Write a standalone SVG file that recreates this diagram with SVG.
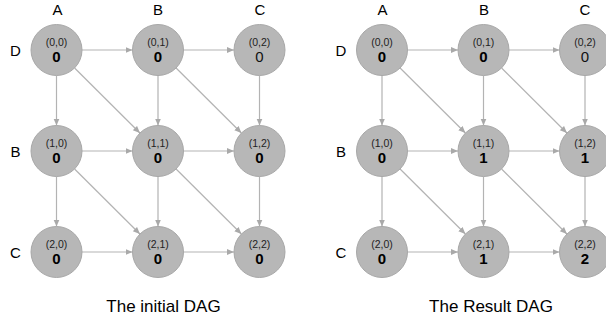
<svg xmlns="http://www.w3.org/2000/svg" width="606" height="325" viewBox="0 0 606 325">
<style>
.n circle{fill:#b7b7b7;stroke:#a8a8a8;stroke-width:1}
.c{font-family:"Liberation Sans",Arial,sans-serif;font-size:10.5px;fill:#222;text-anchor:middle}
.v{font-family:"Liberation Sans",Arial,sans-serif;font-size:15px;font-weight:bold;fill:#000;text-anchor:middle}
.vn{font-family:"Liberation Sans",Arial,sans-serif;font-size:15px;fill:#111;text-anchor:middle}
.lab{font-family:"Liberation Sans",Arial,sans-serif;font-size:15px;fill:#000;text-anchor:middle}
.t{font-family:"Liberation Sans",Arial,sans-serif;font-size:17px;fill:#000;text-anchor:middle}
.e line{stroke:#b3b3b3;stroke-width:1.2;marker-end:url(#ah)}
</style>
<defs>
<marker id="ah" markerUnits="userSpaceOnUse" markerWidth="8" markerHeight="7" refX="7" refY="3" orient="auto">
<path d="M0,0 L7,3 L0,6 z" fill="#a9a9a9"/>
</marker>
</defs>
<rect width="606" height="325" fill="#fff"/>
<g id="labels">
<text class="lab" x="57.5" y="15">A</text>
<text class="lab" x="158" y="15">B</text>
<text class="lab" x="260" y="15">C</text>
<text class="lab" x="15.5" y="56">D</text>
<text class="lab" x="15.5" y="157">B</text>
<text class="lab" x="15.5" y="258">C</text>
<text class="lab" x="382.5" y="15">A</text>
<text class="lab" x="484" y="15">B</text>
<text class="lab" x="585" y="15">C</text>
<text class="lab" x="341" y="56">D</text>
<text class="lab" x="341" y="157">B</text>
<text class="lab" x="341" y="258">C</text>
<text class="t" x="163.5" y="312">The initial DAG</text>
<text class="t" x="491" y="312">The Result DAG</text>
</g>
<g id="edges" class="e">
<line x1="82" y1="50" x2="132.5" y2="50"/>
<line x1="183.5" y1="50" x2="234" y2="50"/>
<line x1="82" y1="151" x2="132.5" y2="151"/>
<line x1="183.5" y1="151" x2="234" y2="151"/>
<line x1="82" y1="252" x2="132.5" y2="252"/>
<line x1="183.5" y1="252" x2="234" y2="252"/>
<line x1="56.5" y1="75.5" x2="56.5" y2="125.5"/>
<line x1="56.5" y1="176.5" x2="56.5" y2="226.5"/>
<line x1="158" y1="75.5" x2="158" y2="125.5"/>
<line x1="158" y1="176.5" x2="158" y2="226.5"/>
<line x1="259.5" y1="75.5" x2="259.5" y2="125.5"/>
<line x1="259.5" y1="176.5" x2="259.5" y2="226.5"/>
<line x1="74.6" y1="68" x2="139.9" y2="133"/>
<line x1="176.1" y1="68" x2="241.4" y2="133"/>
<line x1="74.6" y1="169" x2="139.9" y2="234"/>
<line x1="176.1" y1="169" x2="241.4" y2="234"/>
<line x1="407.5" y1="50" x2="458" y2="50"/>
<line x1="509" y1="50" x2="559.5" y2="50"/>
<line x1="407.5" y1="151" x2="458" y2="151"/>
<line x1="509" y1="151" x2="559.5" y2="151"/>
<line x1="407.5" y1="252" x2="458" y2="252"/>
<line x1="509" y1="252" x2="559.5" y2="252"/>
<line x1="382" y1="75.5" x2="382" y2="125.5"/>
<line x1="382" y1="176.5" x2="382" y2="226.5"/>
<line x1="483.5" y1="75.5" x2="483.5" y2="125.5"/>
<line x1="483.5" y1="176.5" x2="483.5" y2="226.5"/>
<line x1="585" y1="75.5" x2="585" y2="125.5"/>
<line x1="585" y1="176.5" x2="585" y2="226.5"/>
<line x1="400.1" y1="68" x2="465.4" y2="133"/>
<line x1="501.6" y1="68" x2="566.9" y2="133"/>
<line x1="400.1" y1="169" x2="465.4" y2="234"/>
<line x1="501.6" y1="169" x2="566.9" y2="234"/>
</g>
<g id="L00" class="n"><circle cx="56.5" cy="50" r="25.5"/><text class="c" x="56.5" y="46">(0,0)</text><text class="v" x="56.5" y="62">0</text></g>
<g id="L01" class="n"><circle cx="158" cy="50" r="25.5"/><text class="c" x="158" y="46">(0,1)</text><text class="v" x="158" y="62">0</text></g>
<g id="L02" class="n"><circle cx="259.5" cy="50" r="25.5"/><text class="c" x="259.5" y="46">(0,2)</text><text class="vn" x="259.5" y="62">0</text></g>
<g id="L10" class="n"><circle cx="56.5" cy="151" r="25.5"/><text class="c" x="56.5" y="147">(1,0)</text><text class="v" x="56.5" y="163">0</text></g>
<g id="L11" class="n"><circle cx="158" cy="151" r="25.5"/><text class="c" x="158" y="147">(1,1)</text><text class="v" x="158" y="163">0</text></g>
<g id="L12" class="n"><circle cx="259.5" cy="151" r="25.5"/><text class="c" x="259.5" y="147">(1,2)</text><text class="v" x="259.5" y="163">0</text></g>
<g id="L20" class="n"><circle cx="56.5" cy="252" r="25.5"/><text class="c" x="56.5" y="248">(2,0)</text><text class="v" x="56.5" y="264">0</text></g>
<g id="L21" class="n"><circle cx="158" cy="252" r="25.5"/><text class="c" x="158" y="248">(2,1)</text><text class="v" x="158" y="264">0</text></g>
<g id="L22" class="n"><circle cx="259.5" cy="252" r="25.5"/><text class="c" x="259.5" y="248">(2,2)</text><text class="v" x="259.5" y="264">0</text></g>
<g id="R00" class="n"><circle cx="382" cy="50" r="25.5"/><text class="c" x="382" y="46">(0,0)</text><text class="v" x="382" y="62">0</text></g>
<g id="R01" class="n"><circle cx="483.5" cy="50" r="25.5"/><text class="c" x="483.5" y="46">(0,1)</text><text class="v" x="483.5" y="62">0</text></g>
<g id="R02" class="n"><circle cx="585" cy="50" r="25.5"/><text class="c" x="585" y="46">(0,2)</text><text class="vn" x="585" y="62">0</text></g>
<g id="R10" class="n"><circle cx="382" cy="151" r="25.5"/><text class="c" x="382" y="147">(1,0)</text><text class="v" x="382" y="163">0</text></g>
<g id="R11" class="n"><circle cx="483.5" cy="151" r="25.5"/><text class="c" x="483.5" y="147">(1,1)</text><text class="v" x="483.5" y="163">1</text></g>
<g id="R12" class="n"><circle cx="585" cy="151" r="25.5"/><text class="c" x="585" y="147">(1,2)</text><text class="v" x="585" y="163">1</text></g>
<g id="R20" class="n"><circle cx="382" cy="252" r="25.5"/><text class="c" x="382" y="248">(2,0)</text><text class="v" x="382" y="264">0</text></g>
<g id="R21" class="n"><circle cx="483.5" cy="252" r="25.5"/><text class="c" x="483.5" y="248">(2,1)</text><text class="v" x="483.5" y="264">1</text></g>
<g id="R22" class="n"><circle cx="585" cy="252" r="25.5"/><text class="c" x="585" y="248">(2,2)</text><text class="v" x="585" y="264">2</text></g>
</svg>
